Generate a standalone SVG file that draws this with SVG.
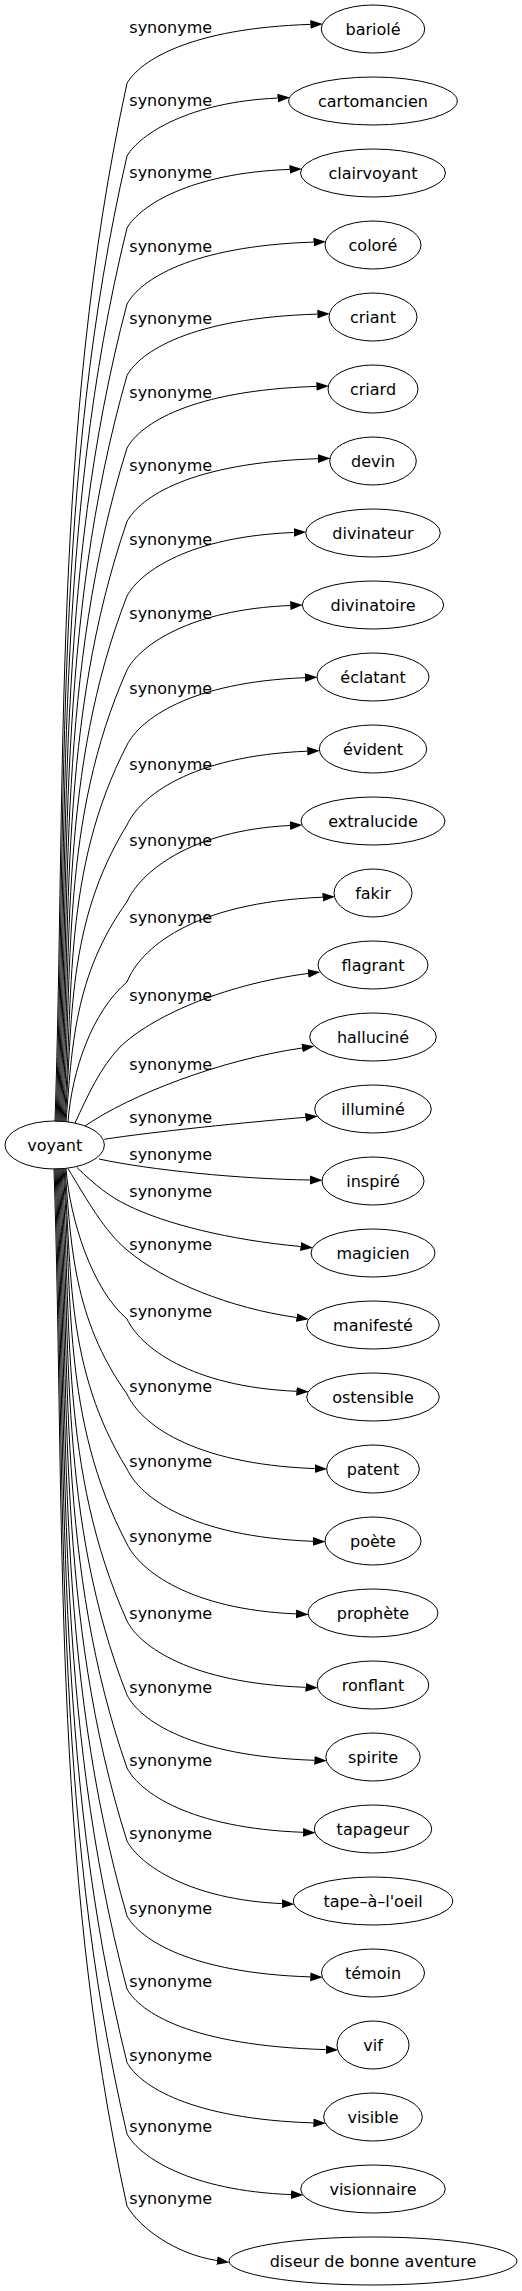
<svg xmlns="http://www.w3.org/2000/svg" width="522" height="2291" viewBox="0 0 522 2291">
<style>
.n ellipse{fill:none;stroke:#000;stroke-width:1}
text{font-family:"DejaVu Sans","Noto Sans",sans-serif;font-size:16px;fill:#000;text-anchor:middle}
.e path{fill:none;stroke:#000;stroke-width:1;marker-end:url(#arr)}
</style>
<defs>
<marker id="arr" viewBox="0 0 13 10" refX="0" refY="5" markerWidth="13" markerHeight="10" markerUnits="userSpaceOnUse" orient="auto"><path d="M0,0.6 L12.5,5 L0,9.4 Z" fill="#000"/></marker>
</defs>
<rect width="522" height="2291" fill="#fff"/>
<g class="e" id="edges">
<path d="M55,1121.5 C66.4,775.4 51.7,429.4 127,83.3 C140,60.8 190,28.2 310.4,24.4"/>
<path d="M56,1121.5 C67.2,799.7 52.7,477.8 127,156 C140,133.8 190,101.8 277.5,98.1"/>
<path d="M57,1121.5 C68.1,823.7 53.8,525.8 127,228 C140,205.6 190,173.1 289.5,169.4"/>
<path d="M58,1121.5 C68.9,849 54.8,576.5 127,304 C140,280.3 190,246.1 313.5,242.1"/>
<path d="M59,1121.5 C69.7,872.8 55.9,624.2 127,375.5 C140,352 190,318 317.4,314.1"/>
<path d="M60,1121.5 C70.6,897 56.9,672.5 127,448 C140,424.4 190,390.3 316.4,386.4"/>
<path d="M61,1121.5 C71.4,921.5 58,721.5 127,521.5 C140,497.5 190,462.7 318,458.7"/>
<path d="M62,1121.5 C72.3,946.3 59,771.2 127,596 C140,571.7 190,536.5 293.7,532.5"/>
<path d="M63,1121.5 C73.1,971 60.1,820.5 127,670 C140,645.3 190,609.6 290.3,605.5"/>
<path d="M64,1121.5 C74,996 62,870.5 127,745 C140,719.3 190,682 305,677.7"/>
<path d="M65,1121.5 C73,1022.7 66,923.8 127,825 C140,796.8 190,755.9 307.3,751.2"/>
<path d="M66,1121.5 C72,1048.2 74,975 127,901.7 C140,872.6 190,830.4 290,825.5"/>
<path d="M68,1122 C72,1070 92,1012 127,982 C140,949.6 190,902.7 322.5,897.2"/>
<path d="M75,1123 C88,1095 100,1068 120,1047 C150,1018 220,985 308,973.5"/>
<path d="M85,1126 C130,1095 220,1060 302,1048"/>
<path d="M104.3,1139.3 C150,1132 250,1122 305.4,1117.3"/>
<path d="M99,1159 C150,1170 240,1179 310,1180"/>
<path d="M77,1167.5 C95,1185 110,1197 127,1205 C165,1224 230,1240 300.5,1246.5"/>
<path d="M68,1168.5 C87,1200 105,1232 127,1250 C165,1282 230,1308 296.5,1317.5"/>
<path d="M66,1168.5 C70,1220 92,1289 127,1319 C140,1346.6 190,1386.6 296.4,1391.3"/>
<path d="M65,1168.5 C71,1243.7 73,1318.8 127,1394 C140,1422.5 190,1463.8 314.7,1468.6"/>
<path d="M64,1168.5 C72,1268.7 65,1368.8 127,1469 C140,1496.6 190,1536.6 313,1541.3"/>
<path d="M63,1168.5 C73,1293.7 61,1418.8 127,1544 C140,1570.7 190,1609.4 296,1613.9"/>
<path d="M62,1168.5 C72.1,1319.3 59.1,1470.2 127,1621 C140,1646.3 190,1683 305.5,1687.3"/>
<path d="M61,1168.5 C71.3,1344 58,1519.5 127,1695 C140,1720 190,1756.1 314.4,1760.3"/>
<path d="M60,1168.5 C70.4,1368.3 57,1568.2 127,1768 C140,1792.6 190,1828.2 303,1832.3"/>
<path d="M59,1168.5 C69.6,1392.7 55.9,1616.8 127,1841 C140,1865 190,1899.6 281.9,1903.6"/>
<path d="M58,1168.5 C68.7,1417.7 54.9,1666.8 127,1916 C140,1939.3 190,1973 310.3,1976.9"/>
<path d="M57,1168.5 C67.9,1442 53.8,1715.5 127,1989 C140,2012.2 190,2045.7 325.8,2049.6"/>
<path d="M56,1168.5 C67.1,1466.5 52.8,1764.5 127,2062.5 C140,2085.6 190,2119 313.4,2122.9"/>
<path d="M55,1168.5 C66.2,1490.3 51.7,1812.2 127,2134 C140,2157.2 190,2190.7 291,2194.6"/>
<path d="M54,1168.5 C65.4,1514.3 50.7,1860.2 127,2206 C140,2228 175,2254 217,2260.5"/>
</g>
<g id="labels">
<text x="170.7" y="33.3">synonyme</text>
<text x="170.7" y="106">synonyme</text>
<text x="170.7" y="178">synonyme</text>
<text x="170.7" y="251.7">synonyme</text>
<text x="170.7" y="324.3">synonyme</text>
<text x="170.7" y="397.7">synonyme</text>
<text x="170.7" y="470.7">synonyme</text>
<text x="170.7" y="545">synonyme</text>
<text x="170.7" y="619">synonyme</text>
<text x="170.7" y="694">synonyme</text>
<text x="170.7" y="770">synonyme</text>
<text x="170.7" y="845.7">synonyme</text>
<text x="170.7" y="923.3">synonyme</text>
<text x="170.7" y="1001">synonyme</text>
<text x="170.7" y="1070">synonyme</text>
<text x="170.7" y="1123">synonyme</text>
<text x="170.7" y="1160">synonyme</text>
<text x="170.7" y="1197">synonyme</text>
<text x="170.7" y="1250">synonyme</text>
<text x="170.7" y="1317">synonyme</text>
<text x="170.7" y="1392">synonyme</text>
<text x="170.7" y="1467">synonyme</text>
<text x="170.7" y="1542">synonyme</text>
<text x="170.7" y="1619">synonyme</text>
<text x="170.7" y="1693">synonyme</text>
<text x="170.7" y="1766">synonyme</text>
<text x="170.7" y="1839">synonyme</text>
<text x="170.7" y="1914">synonyme</text>
<text x="170.7" y="1987">synonyme</text>
<text x="170.7" y="2060.5">synonyme</text>
<text x="170.7" y="2132">synonyme</text>
<text x="170.7" y="2204">synonyme</text>
</g>
<g class="n" id="voyant"><ellipse cx="54.7" cy="1145" rx="49.7" ry="24"/><text x="54.7" y="1150.5">voyant</text></g>
<g class="n" id="n0"><ellipse cx="373" cy="29" rx="51.7" ry="24"/><text x="373" y="34.5">bariolé</text></g>
<g class="n" id="n1"><ellipse cx="373" cy="101" rx="84.3" ry="24"/><text x="373" y="106.5">cartomancien</text></g>
<g class="n" id="n2"><ellipse cx="373" cy="173" rx="72.5" ry="24"/><text x="373" y="178.5">clairvoyant</text></g>
<g class="n" id="n3"><ellipse cx="373" cy="245" rx="48" ry="24"/><text x="373" y="250.5">coloré</text></g>
<g class="n" id="n4"><ellipse cx="373" cy="317" rx="44" ry="24"/><text x="373" y="322.5">criant</text></g>
<g class="n" id="n5"><ellipse cx="373" cy="389" rx="45" ry="24"/><text x="373" y="394.5">criard</text></g>
<g class="n" id="n6"><ellipse cx="373" cy="461" rx="43.3" ry="24"/><text x="373" y="466.5">devin</text></g>
<g class="n" id="n7"><ellipse cx="373" cy="533" rx="67.3" ry="24"/><text x="373" y="538.5">divinateur</text></g>
<g class="n" id="n8"><ellipse cx="373" cy="605" rx="70.7" ry="24"/><text x="373" y="610.5">divinatoire</text></g>
<g class="n" id="n9"><ellipse cx="373" cy="677" rx="56" ry="24"/><text x="373" y="682.5">éclatant</text></g>
<g class="n" id="n10"><ellipse cx="373" cy="749" rx="53.7" ry="24"/><text x="373" y="754.5">évident</text></g>
<g class="n" id="n11"><ellipse cx="373" cy="821" rx="72" ry="24"/><text x="373" y="826.5">extralucide</text></g>
<g class="n" id="n12"><ellipse cx="373" cy="893" rx="39" ry="24"/><text x="373" y="898.5">fakir</text></g>
<g class="n" id="n13"><ellipse cx="373" cy="965" rx="55" ry="24"/><text x="373" y="970.5">flagrant</text></g>
<g class="n" id="n14"><ellipse cx="373" cy="1037" rx="63.3" ry="24"/><text x="373" y="1042.5">halluciné</text></g>
<g class="n" id="n15"><ellipse cx="373" cy="1109" rx="58.3" ry="24"/><text x="373" y="1114.5">illuminé</text></g>
<g class="n" id="n16"><ellipse cx="373" cy="1181" rx="51" ry="24"/><text x="373" y="1186.5">inspiré</text></g>
<g class="n" id="n17"><ellipse cx="373" cy="1253" rx="62" ry="24"/><text x="373" y="1258.5">magicien</text></g>
<g class="n" id="n18"><ellipse cx="373" cy="1325" rx="66.3" ry="24"/><text x="373" y="1330.5">manifesté</text></g>
<g class="n" id="n19"><ellipse cx="373" cy="1397" rx="66.3" ry="24"/><text x="373" y="1402.5">ostensible</text></g>
<g class="n" id="n20"><ellipse cx="373" cy="1469" rx="46.3" ry="24"/><text x="373" y="1474.5">patent</text></g>
<g class="n" id="n21"><ellipse cx="373" cy="1541" rx="48" ry="24"/><text x="373" y="1546.5">poète</text></g>
<g class="n" id="n22"><ellipse cx="373" cy="1613" rx="65" ry="24"/><text x="373" y="1618.5">prophète</text></g>
<g class="n" id="n23"><ellipse cx="373" cy="1685" rx="55.8" ry="24"/><text x="373" y="1690.5">ronflant</text></g>
<g class="n" id="n24"><ellipse cx="373" cy="1757" rx="47.2" ry="24"/><text x="373" y="1762.5">spirite</text></g>
<g class="n" id="n25"><ellipse cx="373" cy="1829" rx="58.7" ry="24"/><text x="373" y="1834.5">tapageur</text></g>
<g class="n" id="n26"><ellipse cx="373" cy="1901" rx="79.7" ry="24"/><text x="373" y="1906.5">tape–à–l'oeil</text></g>
<g class="n" id="n27"><ellipse cx="373" cy="1973" rx="51.5" ry="24"/><text x="373" y="1978.5">témoin</text></g>
<g class="n" id="n28"><ellipse cx="373" cy="2045" rx="36" ry="24"/><text x="373" y="2050.5">vif</text></g>
<g class="n" id="n29"><ellipse cx="373" cy="2117" rx="49.3" ry="24"/><text x="373" y="2122.5">visible</text></g>
<g class="n" id="n30"><ellipse cx="373" cy="2189" rx="72.3" ry="24"/><text x="373" y="2194.5">visionnaire</text></g>
<g class="n" id="n31"><ellipse cx="373" cy="2261" rx="144" ry="24"/><text x="373" y="2266.5">diseur de bonne aventure</text></g>
</svg>
